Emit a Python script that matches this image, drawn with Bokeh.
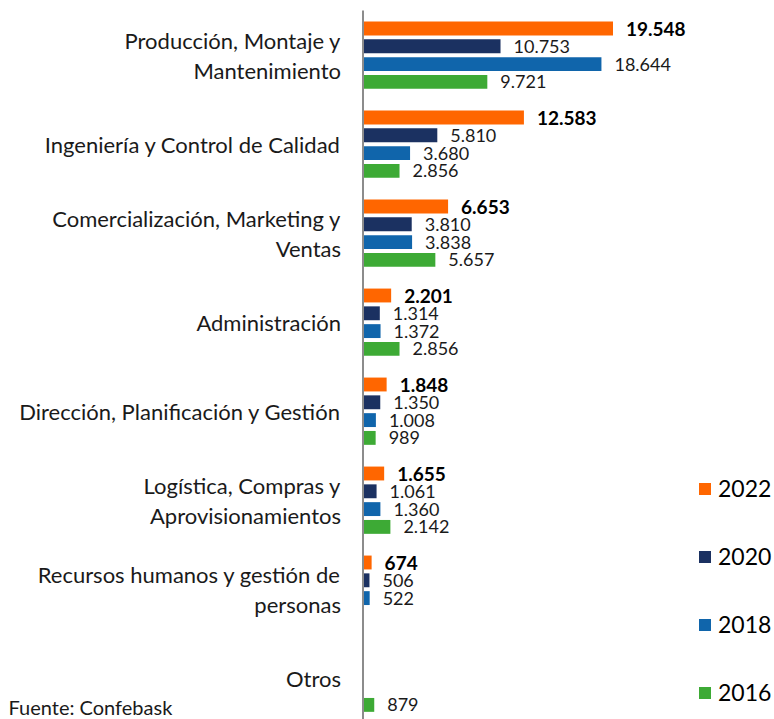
from bokeh.plotting import figure
from bokeh.models import Range1d, Label, Legend, LegendItem, ColumnDataSource
from bokeh.core.properties import value
from bokeh.embed import file_html
from bokeh.resources import INLINE

categories = [
    "Producción, Montaje y\nMantenimiento",
    "Ingeniería y Control de Calidad",
    "Comercialización, Marketing y\nVentas",
    "Administración",
    "Dirección, Planificación y Gestión",
    "Logística, Compras y\nAprovisionamientos",
    "Recursos humanos y gestión de\npersonas",
    "Otros",
]
years = ["2022", "2020", "2018", "2016"]
v2022 = [19548, 12583, 6653, 2201, 1848, 1655, 674, None]
v2020 = [10753, 5810, 3810, 1314, 1350, 1061, 506, None]
v2018 = [18644, 3680, 3838, 1372, 1008, 1360, 522, None]
v2016 = [9721, 2856, 5657, 2856, 989, 2142, None, 879]
colors = ["#FF6600", "#1B3161", "#1065AB", "#3DAA35"]
source_note = "Fuente: Confebask"

series = [v2022, v2020, v2018, v2016]

W, H = 774, 719
px_per_unit = 250 / 19548.0
px_per_slot = 17.8
x0_px = 362.5
y0_px = 28.0

x_start = -x0_px / px_per_unit
x_end = x_start + W / px_per_unit
y_top = -y0_px / px_per_slot
y_bot = y_top + H / px_per_slot

p = figure(width=W, height=H, output_backend="svg", toolbar_location=None,
           x_range=Range1d(x_start, x_end), y_range=Range1d(y_bot, y_top),
           min_border=0, outline_line_color=None)
p.axis.visible = False
p.grid.visible = False
p.background_fill_color = "white"
p.border_fill_color = "white"

FONT = "Lato"
renderers = []
for j, (vals, col) in enumerate(zip(series, colors)):
    ys, xs, labs = [], [], []
    for i, v in enumerate(vals):
        if v is None:
            continue
        ys.append(i * 5 + j)
        xs.append(v)
        labs.append(f"{v:,}".replace(",", "."))
    src = ColumnDataSource(dict(y=ys, right=xs, lab=labs))
    r = p.hbar(y="y", left=0, right="right", height=0.78, source=src,
               fill_color=col, line_color=None)
    renderers.append(r)
    p.text(x="right", y="y", text="lab", source=src, x_offset=13,
           text_baseline="middle", text_align="left",
           text_font=value(FONT),
           text_font_size="19px" if j == 0 else "18px",
           text_font_style="bold" if j == 0 else "normal",
           text_color="black" if j == 0 else "#1a1a1a")

cat_src = ColumnDataSource(dict(x=[0] * len(categories),
                                y=[i * 5 + 1.5 for i in range(len(categories))],
                                t=categories))
p.text(x="x", y="y", text="t", source=cat_src, x_offset=-22,
       text_align="right", text_baseline="middle", text_line_height=1.12,
       text_font=value(FONT), text_font_size="22px", text_color="#1a1a1a")

# vertical category axis line
p.segment(x0=[0], y0=[y_top + 10 / px_per_slot], x1=[0], y1=[y_bot],
          line_color="#8c8c8c", line_width=2)

legend = Legend(items=[LegendItem(label=y, renderers=[r]) for y, r in zip(years, renderers)],
                location=(697, 13), orientation="vertical",
                glyph_width=15, glyph_height=15, label_height=15,
                spacing=40, padding=0, margin=0, label_standoff=6,
                label_text_font=FONT, label_text_font_size="23px",
                label_text_color="black",
                background_fill_alpha=0, border_line_color=None)
p.add_layout(legend)

p.add_layout(Label(x=8, y=1, x_units="screen", y_units="screen", text=source_note,
                   text_baseline="bottom", text_font=FONT, text_font_size="20px",
                   text_color="#1a1a1a"))

open("out.html", "w").write(file_html(p, INLINE))
